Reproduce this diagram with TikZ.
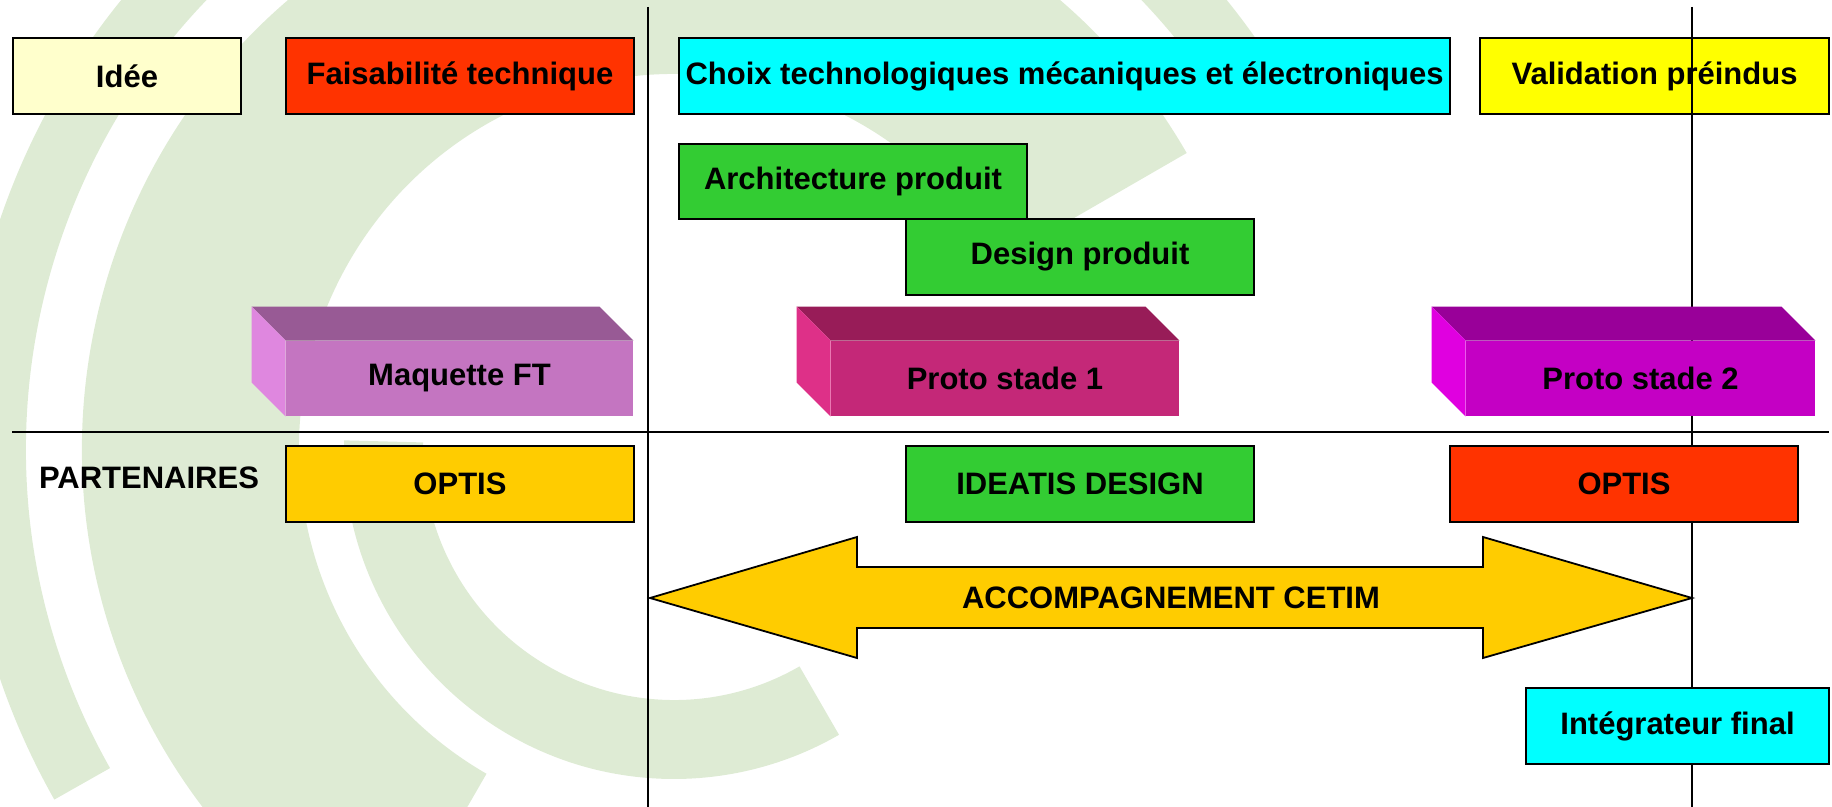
\documentclass[tikz,border=0pt]{standalone}
\usepackage{fontspec}
\setmainfont{Liberation Sans}
\definecolor{wmgreen}{HTML}{DEEBD4}
\definecolor{ideecol}{HTML}{FFFFCC}
\definecolor{redor}{HTML}{FF3300}
\definecolor{cyanb}{HTML}{00FFFF}
\definecolor{yelb}{HTML}{FFFF00}
\definecolor{greenb}{HTML}{33CC33}
\definecolor{goldb}{HTML}{FFCC00}
\definecolor{mqfront}{HTML}{C475C1}
\definecolor{mqtop}{HTML}{985A95}
\definecolor{mqside}{HTML}{DF87DF}
\definecolor{pafront}{HTML}{C42878}
\definecolor{patop}{HTML}{981C58}
\definecolor{paside}{HTML}{DE3088}
\definecolor{pbfront}{HTML}{C400C4}
\definecolor{pbtop}{HTML}{990099}
\definecolor{pbside}{HTML}{E000E0}
\begin{document}
\begin{tikzpicture}[x=0.5pt,y=-0.5pt,
  lbl/.style={font=\bfseries\fontsize{15.5}{18}\selectfont, text=black},
  box/.style 2 args={lbl, draw=black, line width=0.8pt, inner sep=0pt,
    minimum width={#1*0.5pt}, minimum height={#2*0.5pt}},
  face/.style 2 args={lbl, inner sep=0pt,
    minimum width={#1*0.5pt}, minimum height={#2*0.5pt}},
  rule/.style={line width=0.9pt, draw=black},
  wm/.style={fill=wmgreen}]
\useasboundingbox (0,0) rectangle (1832,807);
% watermark
\begin{scope}
\clip (0,0) rectangle (1832,807);
\coordinate (C) at (674,449);
\fill[wm] (C) ++(31:356pt) arc[start angle=31, end angle=209.5, radius=356pt]
  -- ++(29.5:32pt) arc[start angle=209.5, end angle=31, radius=324pt] -- cycle;
\fill[wm] (C) ++(30:296pt) arc[start angle=30, end angle=240, radius=296pt]
  -- ++(60:108.5pt) arc[start angle=240, end angle=30, radius=187.5pt] -- cycle;
\fill[wm] (C) ++(178.5:165pt) arc[start angle=178.5, end angle=300, radius=165pt]
  -- ++(120:39.5pt) arc[start angle=300, end angle=178.5, radius=125.5pt] -- cycle;
\end{scope}
% box under the rule
\node[box={349}{76}, fill=yelb] (valid) at (1654.5,76) {Validation préindus};
% rules
\coordinate (v1t) at (648,7);
\coordinate (v1b) at (648,807);
\coordinate (v2t) at (1692,7);
\coordinate (v2b) at (1692,807);
\coordinate (hl) at (12,432);
\coordinate (hr) at (1829,432);
\draw[rule] (v1t) -- (v1b);
\draw[rule] (v2t) -- (v2b);
\draw[rule] (hl) -- (hr);
% top row
\node[box={228}{76}, fill=ideecol] (idee) at (127,76) {Idée};
\node[box={348}{76}, fill=redor] (fais) at (460,76) {Faisabilité technique};
\node[box={771}{76}, fill=cyanb] (choix) at (1064.5,76) {Choix technologiques mécaniques et électroniques};
\node[box={348}{75}, fill=greenb] (archi) at (853,181.5) {Architecture produit};
\node[box={348}{76}, fill=greenb] (design) at (1080,257) {Design produit};
% 3D boxes
\node[face={347}{75}, fill=mqfront] (maq) at (459.5,378.5) {Maquette FT};
\fill[mqtop] (maq.north west) -- ++(-17pt,17pt) -- ([shift={(-17pt,17pt)}]maq.north east) -- (maq.north east) -- cycle;
\fill[mqside] (maq.north west) -- ++(-17pt,17pt) -- ([shift={(-17pt,17pt)}]maq.south west) -- (maq.south west) -- cycle;
\node[face={348}{75}, fill=pafront] (pa) at (1005,378.5) {Proto stade 1};
\fill[patop] (pa.north west) -- ++(-17pt,17pt) -- ([shift={(-17pt,17pt)}]pa.north east) -- (pa.north east) -- cycle;
\fill[paside] (pa.north west) -- ++(-17pt,17pt) -- ([shift={(-17pt,17pt)}]pa.south west) -- (pa.south west) -- cycle;
\node[face={349}{75}, fill=pbfront] (pb) at (1640.5,378.5) {Proto stade 2};
\fill[pbtop] (pb.north west) -- ++(-17pt,17pt) -- ([shift={(-17pt,17pt)}]pb.north east) -- (pb.north east) -- cycle;
\fill[pbside] (pb.north west) -- ++(-17pt,17pt) -- ([shift={(-17pt,17pt)}]pb.south west) -- (pb.south west) -- cycle;
% partners
\node[lbl] (part) at (149,478) {PARTENAIRES};
\node[box={348}{76}, fill=goldb] (optisa) at (460,484) {OPTIS};
\node[box={348}{76}, fill=greenb] (ideatis) at (1080,484) {IDEATIS DESIGN};
\node[box={348}{76}, fill=redor] (optisb) at (1624,484) {OPTIS};
% double arrow
\draw[line width=0.9pt, fill=goldb, line join=miter]
  (650,598) -- (857,537) -- (857,567) -- (1483,567) -- (1483,537) -- (1692,598)
  -- (1483,658) -- (1483,628) -- (857,628) -- (857,658) -- cycle;
\node[lbl] (acc) at (1171,598) {ACCOMPAGNEMENT CETIM};
% final
\node[box={303}{76}, fill=cyanb] (integ) at (1677.5,726) {Intégrateur final};
\end{tikzpicture}
\end{document}
